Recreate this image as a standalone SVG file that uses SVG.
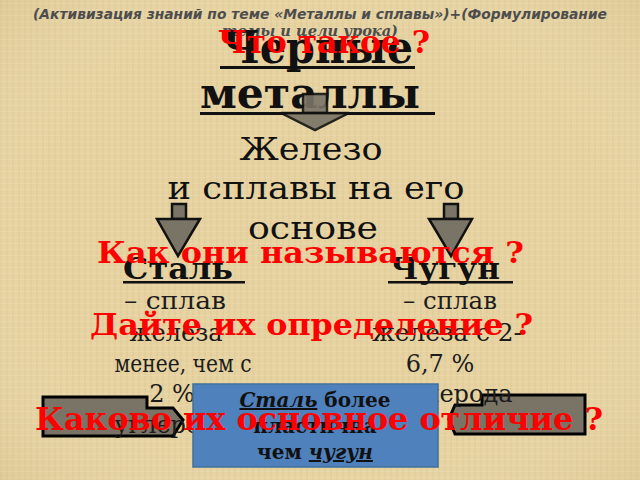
<svg xmlns="http://www.w3.org/2000/svg" width="640" height="480" viewBox="0 0 640 480">
<defs>
<pattern id="linen" width="6" height="6" patternUnits="userSpaceOnUse">
<rect width="6" height="6" fill="#e6d3a1"/>
<rect x="0" y="0" width="2" height="6" fill="#d8c38e" opacity="0.3"/>
<rect x="0" y="3" width="6" height="1" fill="#efe0b6" opacity="0.35"/>
</pattern>
<radialGradient id="vign" cx="0.5" cy="0.5" r="0.75">
<stop offset="0.6" stop-color="#ffffff" stop-opacity="0"/>
<stop offset="1" stop-color="#b89a5c" stop-opacity="0.22"/>
</radialGradient>
</defs>
<style>
.ser{font-family:"DejaVu Serif","Liberation Serif",serif;fill:#111}
.def{font-family:"DejaVu Serif","Liberation Serif",serif;fill:#1c1c1c;font-size:24px;text-anchor:middle}
.b{font-weight:bold}
.red{font-family:"DejaVu Serif","Liberation Serif",serif;font-weight:bold;fill:#ff0000}
.hdr{font-family:"DejaVu Sans","Liberation Sans",sans-serif;font-weight:bold;font-style:italic;fill:#4d4d4d;font-size:14px}
.ul{fill:#111}
.arr{fill:#7a7466;stroke:#111;stroke-width:2.5;stroke-linejoin:miter}
.blk{fill:#7a7466;stroke:#000;stroke-width:3;stroke-linejoin:miter}
</style>
<rect width="640" height="480" fill="url(#linen)"/>
<rect width="640" height="480" fill="url(#vign)"/>

<g id="header">
<text class="hdr" x="320" y="19" text-anchor="middle" textLength="574" lengthAdjust="spacingAndGlyphs">(Активизация знаний по теме «Металлы и сплавы»)+(Формулирование</text>
<text class="hdr" x="310" y="36" text-anchor="middle" textLength="176" lengthAdjust="spacingAndGlyphs" style="font-family:'DejaVu Serif','Liberation Serif',serif">темы и цели урока)</text>
</g>

<g id="title">
<text class="ser b" x="222" y="63" font-size="44" textLength="191" lengthAdjust="spacingAndGlyphs">Черные</text>
<rect class="ul" x="220" y="66" width="195" height="3"/>
<text class="ser b" x="200" y="108" font-size="42" textLength="220" lengthAdjust="spacingAndGlyphs">металлы</text>
<rect class="ul" x="200" y="112" width="235" height="3"/>
</g>

<g id="connectors">
<g opacity="0.9">
<rect class="arr" x="303" y="94" width="24" height="19"/>
<polygon class="arr" points="281,113 349,113 315,130"/>
</g>
<rect class="arr" x="172" y="204" width="14" height="15"/>
<polygon class="arr" points="157,219 200,219 178,256"/>
<rect class="arr" x="444" y="204" width="14" height="15"/>
<polygon class="arr" points="429,219 472,219 451,256"/>
</g>

<g id="iron">
<text class="ser" x="311" y="160" font-size="32" text-anchor="middle" textLength="143" lengthAdjust="spacingAndGlyphs">Железо</text>
<text class="ser" x="316" y="199" font-size="32" text-anchor="middle" textLength="297" lengthAdjust="spacingAndGlyphs">и сплавы на его</text>
<text class="ser" x="313" y="239" font-size="32" text-anchor="middle" textLength="130" lengthAdjust="spacingAndGlyphs">основе</text>
</g>

<g id="steel">
<text class="ser b" x="123" y="279" font-size="30" textLength="110" lengthAdjust="spacingAndGlyphs">Сталь</text>
<rect class="ul" x="123" y="281" width="122" height="2.5"/>
</g>

<g id="castiron">
<text class="ser b" x="390" y="279" font-size="30" textLength="110" lengthAdjust="spacingAndGlyphs">Чугун</text>
<rect class="ul" x="388" y="281" width="125" height="2.5"/>
</g>

<g id="left-arrow">
<polygon class="blk" points="43,397 147,397 147,408 173,408 183,420 173,436 43,436"/>
</g>
<g id="right-arrow">
<polygon class="blk" points="455,405 482,405 482,395 585,395 585,434 455,434 449,419"/>
</g>

<g id="steel-def">
<text class="def" x="175" y="309" textLength="102" lengthAdjust="spacingAndGlyphs">– сплав</text>
<text class="def" x="176" y="341">железа</text>
<text class="def" x="183" y="372" textLength="137" lengthAdjust="spacingAndGlyphs">менее, чем с</text>
<text class="def" x="172" y="402">2 %</text>
<text class="def" x="172" y="433">углерода</text>
</g>

<g id="castiron-def">
<text class="def" x="450" y="309" textLength="94" lengthAdjust="spacingAndGlyphs">– сплав</text>
<text class="def" x="447" y="341" textLength="150" lengthAdjust="spacingAndGlyphs">железа  с 2-</text>
<text class="def" x="440" y="372">6,7 %</text>
<text class="def" x="455" y="402">углерода</text>
</g>

<g id="compare">
<rect x="193" y="384" width="245" height="83" fill="#4f81bd" stroke="#41719c" stroke-width="1.5"/>
<text class="ser b" x="315" y="407" font-size="20" text-anchor="middle"><tspan font-style="italic" text-decoration="underline">Сталь</tspan> более</text>
<text class="ser b" x="315" y="433" font-size="20" text-anchor="middle">пластична</text>
<text class="ser b" x="315" y="459" font-size="20" text-anchor="middle">чем  <tspan font-style="italic" text-decoration="underline">чугун</tspan></text>
</g>

<g id="questions">
<text class="red" x="218" y="53" font-size="32" textLength="212" lengthAdjust="spacingAndGlyphs">Что такое ?</text>
<text class="red" x="97" y="263" font-size="30" textLength="427" lengthAdjust="spacingAndGlyphs">Как они называются ?</text>
<text class="red" x="90" y="335" font-size="30" textLength="443" lengthAdjust="spacingAndGlyphs">Дайте их определение ?</text>
<text class="red" x="35" y="430" font-size="32" textLength="568" lengthAdjust="spacingAndGlyphs">Каково их основное отличие ?</text>
</g>
</svg>
